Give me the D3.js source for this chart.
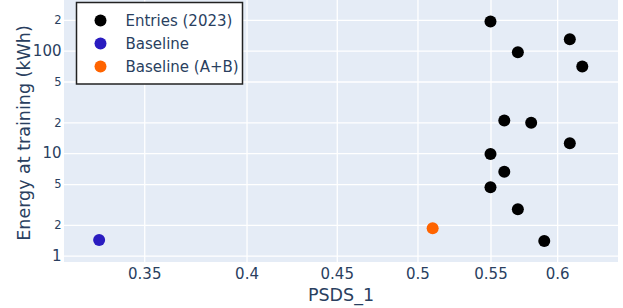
<!DOCTYPE html>
<html>
<head>
<meta charset="utf-8">
<script src="https://cdn.jsdelivr.net/npm/d3@7/dist/d3.min.js"></script>
<style>
    html, body { margin: 0; padding: 0; background: #fff; }
    svg { display: block; font-family: "DejaVu Sans", Verdana, sans-serif; }
</style>
</head>
<body>
<div id="chart"></div>
<script>
// 数据
var entryPsds = [0.55, 0.61, 0.57, 0.62, 0.56, 0.58, 0.61, 0.55, 0.56, 0.55, 0.57, 0.59];
var entryEnergy = [192, 129, 96.5, 70, 20.8, 19.8, 12.5, 9.8, 6.6, 4.65, 2.84, 1.39];
var baselinePsds = [0.33];
var baselineEnergy = [1.42];
var baselineABPsds = [0.51];
var baselineABEnergy = [1.85];
var seriesNames = ["Entries (2023)", "Baseline", "Baseline (A+B)"];
var xTicks = [0.35, 0.4, 0.45, 0.5, 0.55, 0.6];
var xTickLabels = ["0.35", "0.4", "0.45", "0.5", "0.55", "0.6"];
var yTicks = [1, 2, 5, 10, 20, 50, 100, 200];
var yTickLabels = ["1", "2", "5", "10", "2", "5", "100", "2"];

;(function (win) {

    "use strict";

    //配置
    var _config = {
        width: 623,
        height: 308,
        padding: {left: 64, right: 5, top: 0, bottom: 46},
        xDomain: [0.3152, 0.6496],
        yDomain: [0.868, 312],
        bg: '#e5ecf6',
        fontColor: '#2a3f5f',
        colors: ['#000000', '#2a1cc0', '#ff6400'],
        radius: 6
    };

    var _tool = {
        // 整理三组数据
        getSeries: function () {
            var pairs = [
                [entryPsds, entryEnergy],
                [baselinePsds, baselineEnergy],
                [baselineABPsds, baselineABEnergy]
            ];
            return pairs.map(function (p, i) {
                return {
                    name: seriesNames[i],
                    color: _config.colors[i],
                    points: p[0].map(function (x, j) { return {x: x, y: p[1][j]}; })
                };
            });
        },

        drawSVGPic: function () {
            var pad = _config.padding,
                w = _config.width - pad.left - pad.right,
                h = _config.height - pad.top - pad.bottom;

            var svg = d3.select('#chart').append('svg')
                .attr('width', _config.width)
                .attr('height', _config.height);

            var x = d3.scaleLog().domain(_config.xDomain).range([0, w]);
            var y = d3.scaleLog().domain(_config.yDomain).range([h, 0]);

            var g = svg.append('g')
                .attr('transform', 'translate(' + pad.left + ',' + pad.top + ')');

            g.append('rect')
                .attr('width', w)
                .attr('height', h)
                .attr('fill', _config.bg);

            // 网格线
            var xAxis = d3.axisBottom(x).tickValues(xTicks).tickSize(-h)
                .tickFormat(function (d, i) { return xTickLabels[i]; });
            var gx = g.append('g')
                .attr('transform', 'translate(0,' + h + ')')
                .call(xAxis);
            gx.select('.domain').remove();
            gx.selectAll('.tick line').attr('stroke', '#fff').attr('stroke-width', 1.3);
            gx.selectAll('.tick text')
                .attr('y', 6)
                .attr('fill', _config.fontColor)
                .style('font-size', '15px')
                .style('font-family', '"DejaVu Sans", Verdana, sans-serif');

            var yAxis = d3.axisLeft(y).tickValues(yTicks).tickSize(-w)
                .tickFormat(function (d, i) { return yTickLabels[i]; });
            var gy = g.append('g').call(yAxis);
            gy.select('.domain').remove();
            gy.selectAll('.tick line').attr('stroke', '#fff').attr('stroke-width', 1.3);
            gy.selectAll('.tick text')
                .attr('x', -2.5)
                .attr('fill', _config.fontColor)
                .style('font-family', '"DejaVu Sans", Verdana, sans-serif')
                .style('font-size', function (d, i) {
                    return yTickLabels[i].length > 1 || d === 1 ? '15px' : '11.5px';
                });

            // 数据点
            var series = _tool.getSeries();
            series.forEach(function (s) {
                g.append('g').selectAll('circle')
                    .data(s.points)
                    .enter()
                    .append('circle')
                    .attr('cx', function (d) { return x(d.x); })
                    .attr('cy', function (d) { return y(d.y); })
                    .attr('r', _config.radius)
                    .attr('fill', s.color);
            });

            // 坐标轴标题
            svg.append('text')
                .attr('x', pad.left + w / 2)
                .attr('y', 301)
                .attr('text-anchor', 'middle')
                .attr('fill', _config.fontColor)
                .style('font-size', '17.5px')
                .text('PSDS_1');

            svg.append('text')
                .attr('transform', 'translate(30,' + (pad.top + h / 2 + 2) + ') rotate(-90)')
                .attr('text-anchor', 'middle')
                .attr('fill', _config.fontColor)
                .style('font-size', '17.5px')
                .text('Energy at training (kWh)');

            // 图例
            var legend = svg.append('g').attr('transform', 'translate(76.5,2.5)');
            legend.append('rect')
                .attr('width', 166)
                .attr('height', 81.5)
                .attr('fill', '#fff')
                .attr('stroke', '#222')
                .attr('stroke-width', 1.5);
            var item = legend.selectAll('.item')
                .data(series)
                .enter()
                .append('g')
                .attr('class', 'item')
                .attr('transform', function (d, i) { return 'translate(0,' + (18 + i * 23) + ')'; });
            item.append('circle')
                .attr('cx', 24)
                .attr('r', _config.radius)
                .attr('fill', function (d) { return d.color; });
            item.append('text')
                .attr('x', 49)
                .attr('dy', '0.35em')
                .attr('fill', _config.fontColor)
                .style('font-size', '15px')
                .text(function (d) { return d.name; });
        }
    };

    _tool.drawSVGPic();

})(window);
</script>
</body>
</html>
